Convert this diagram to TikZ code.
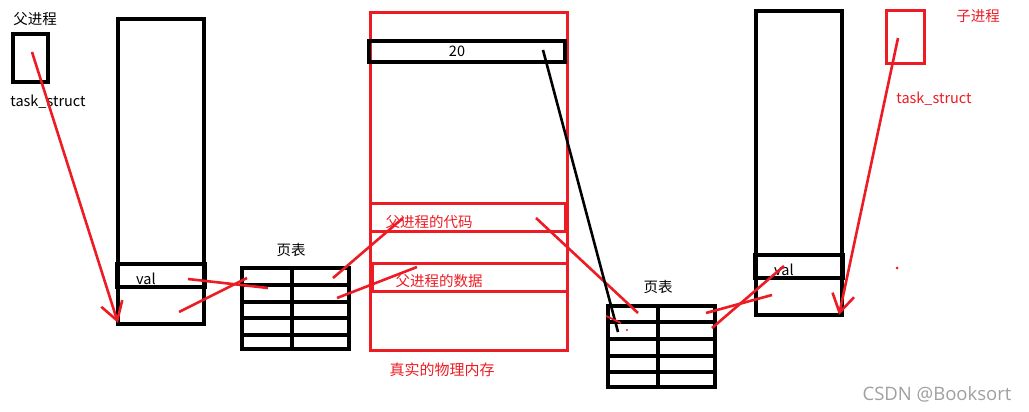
\documentclass[tikz,border=0pt]{standalone}
\usepackage{fontspec}
\setmainfont{Noto Sans CJK SC}
\newfontfamily\wmfont{Open Sans}
\usetikzlibrary{arrows.meta}
\definecolor{pred}{RGB}{237,28,36}
\definecolor{wmgray}{RGB}{160,160,160}
\begin{document}
\begin{tikzpicture}[x=1pt,y=-1pt,
  blk/.style={draw=black,line width=3.2pt,inner sep=0pt,outer sep=0pt},
  redbox/.style={draw=pred,line width=3pt,inner sep=0pt,outer sep=0pt},
  rline/.style={draw=pred,line width=2.6pt},
  bline/.style={draw=black,line width=2.6pt},
  grid/.style={draw=black,line width=3.2pt},
  lbl/.style={inner sep=0pt,font=\fontsize{14.5}{16}\selectfont},
  rlbl/.style={lbl,text=pred},
  barb/.style={-{Straight Barb[length=18pt,width=22pt,line width=2.6pt]}}
]
\useasboundingbox[fill=white] (0,0) rectangle (1029,412);

% ---------- parent process ----------
\node[lbl] (ptitle) at (35,19) {父进程};
\node[blk,minimum width=35pt,minimum height=48pt] (ptask) at (30.5,58) {};
\node[lbl] (ptlbl) at (48,102) {task\_struct};

% parent virtual memory
\node[blk,minimum width=86pt,minimum height=305pt] (pmem) at (161,171.5) {};
\node[blk,minimum width=88pt,minimum height=23pt] (pval) at (161,275.5) {};
\node[lbl] (pvaltxt) at (146,279) {val};

% parent page table
\node[lbl] (ppttitle) at (291,250) {页表};
\draw[grid] (242,268) rectangle (349,349);
\draw[grid] (292,268) -- (292,349);
\foreach \yy in {285,302,318,335} \draw[grid] (242,\yy) -- (349,\yy);

% ---------- physical memory ----------
\node[redbox,minimum width=197pt,minimum height=337pt] (phys) at (468.5,181.5) {};
\node[blk,minimum width=196pt,minimum height=21pt] (cell20) at (467,51.5) {};
\node[lbl] (t20) at (457,51) {20};
\node[redbox,minimum width=195pt,minimum height=28pt] (code) at (467.5,217) {};
\node[rlbl] (codetxt) at (429,222) {父进程的代码};
\node[redbox,minimum width=195pt,minimum height=28pt] (data) at (469.5,277) {};
\node[rlbl] (datatxt) at (439,281) {父进程的数据};
\node[rlbl,font=\fontsize{15}{17}\selectfont] (realtxt) at (442,370) {真实的物理内存};

% ---------- child page table ----------
\node[lbl] (cpttitle) at (658,287) {页表};
\draw[grid] (608,306) rectangle (715,387);
\draw[grid] (658,306) -- (658,387);
\foreach \yy in {322,339,356,372} \draw[grid] (608,\yy) -- (715,\yy);

% ---------- child process ----------
\node[blk,minimum width=86pt,minimum height=304pt] (cmem) at (799,163) {};
\node[blk,minimum width=88pt,minimum height=23pt] (cval) at (799,266.5) {};
\node[lbl] (cvaltxt) at (784,270) {val};

\node[redbox,minimum width=38pt,minimum height=53pt] (ctask) at (905,37.5) {};
\node[rlbl] (ctitle) at (978,16) {子进程};
\node[rlbl] (ctlbl) at (934,99) {task\_struct};
\node[wmgray,inner sep=0pt,font=\wmfont\fontsize{18.5}{20}\selectfont] (wm) at (937,394) {CSDN @Booksort};

% ---------- connector end points ----------
\coordinate (a1) at (32,52);   \coordinate (a2) at (118,323);
\coordinate (l1a) at (188,279); \coordinate (l1b) at (268,288);
\coordinate (l2a) at (179,312); \coordinate (l2b) at (247,278);
\coordinate (l3a) at (333,278); \coordinate (l3b) at (403,218);
\coordinate (l4a) at (337,298); \coordinate (l4b) at (417,267);
\coordinate (k1) at (543,50);  \coordinate (k2) at (618,332);
\coordinate (r1a) at (536,218); \coordinate (r1b) at (638,313);
\coordinate (r2a) at (706,313); \coordinate (r2b) at (772,295);
\coordinate (r3a) at (712,328); \coordinate (r3b) at (784,266);
\coordinate (c1) at (898,38);  \coordinate (c2) at (839,315);
\coordinate (m1) at (606,316); \coordinate (m2) at (621,323);
\coordinate (dot) at (897,268);

% ---------- connectors ----------
\draw[rline,barb] (a1) -- (a2);
\draw[rline] (l1a) -- (l1b);
\draw[rline] (l2a) -- (l2b);
\draw[rline] (l3a) -- (l3b);
\draw[rline] (l4a) -- (l4b);
\draw[rline] (r1a) -- (r1b);
\draw[bline] (k1) -- (k2);
\draw[rline] (r2a) -- (r2b);
\draw[rline] (r3a) -- (r3b);
\draw[rline,barb] (c1) -- (c2);
\draw[rline,line width=1.8pt] (m1) -- (m2);
\fill[pred] (dot) circle (1.5pt);
\fill[pred] (627,330) circle (1.1pt);
\end{tikzpicture}
\end{document}
